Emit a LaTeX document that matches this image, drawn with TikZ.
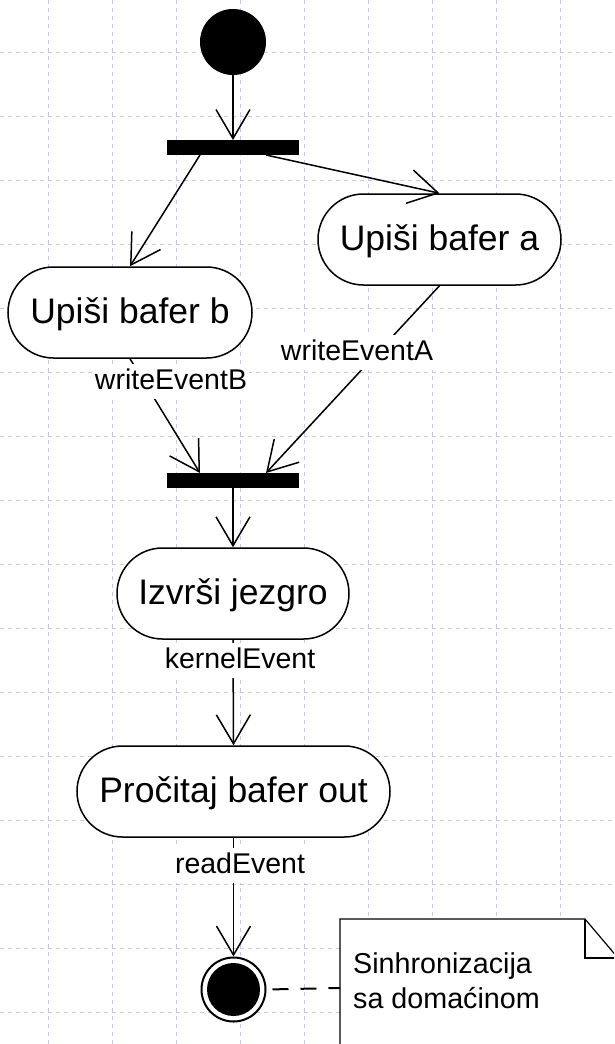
\documentclass[tikz,border=0pt]{standalone}
\usepackage{fontspec}
\setmainfont{Liberation Sans}
\usetikzlibrary{arrows.meta,shapes.misc,calc}

\definecolor{gridblue}{RGB}{192,202,245}

\begin{document}
\begin{tikzpicture}[x=1pt,y=-1pt,
  gridline/.style={draw=gridblue, line width=0.9pt, dash pattern=on 4pt off 4pt},
  action/.style={rounded rectangle, draw, fill=white, line width=1.5pt,
    minimum height=91pt, inner sep=0pt,
    font=\fontsize{35.5}{40}\selectfont, text height=21.5pt, text depth=0pt},
  bar/.style={rectangle, fill=black, minimum width=132pt, minimum height=15pt,
    inner sep=0pt, outer sep=0pt},
  flow/.style={line width=1.5pt, -{Straight Barb[length=29pt,width=34pt]}},
  guard/.style={fill=white, font=\fontsize{28.5}{34}\selectfont,
    text height=21pt, text depth=6pt, inner xsep=2pt, inner ysep=4pt},
  notetext/.style={font=\fontsize{28.7}{35}\selectfont, inner sep=0pt},
  notelink/.style={line width=2pt, dash pattern=on 16pt off 12pt}]

\useasboundingbox (0,0) rectangle (614,1044);
\clip (0,0) rectangle (614,1044);
\fill[white] (0,0) rectangle (614,1044);

% background grid
\foreach \gx in {48.5,112.5,...,600}
  \draw[gridline] (\gx,0) -- (\gx,1044);
\foreach \gy in {52,116,...,1044}
  \draw[gridline] (0,\gy) -- (614,\gy);

% initial and final states
\node[circle, fill=black, draw, line width=1pt, minimum size=65pt, inner sep=0pt] (start) at (233,42) {};
\node[circle, draw, fill=white, line width=2pt, minimum size=64pt, inner sep=0pt] (final) at (233.5,989.5) {};
\fill (final.center) circle (26.5);

% fork and join bars
\node[bar] (fork) at (233,147.5) {};
\node[bar] (join) at (233,480.5) {};

% actions
\node[action, minimum width=243pt] (bufA) at (439.5,239.5) {Upiši bafer a};
\node[action, minimum width=244pt] (bufB) at (130,312.5) {Upiši bafer b};
\node[action, minimum width=232pt] (kernel) at (233,593.5) {Izvrši jezgro};
\node[action, minimum width=313pt] (readout) at (233.5,791.5) {Pročitaj bafer out};

% note
\draw[line width=1.2pt, fill=white]
  (340,1070) -- (340,919) -- (585,919) -- (618,958) -- (618,1070);
\draw[line width=1.2pt] (585,919) -- (585,958) -- (618,958);
\coordinate (notewest) at (340,988);
\node[notetext, anchor=base west] (noteA) at (353,973) {Sinhronizacija};
\node[notetext, anchor=base west] (noteB) at (353,1008) {sa domaćinom};

% control flow
\coordinate (forkL) at ($(fork.south west)!0.25!(fork.south east)$);
\coordinate (forkR) at ($(fork.south west)!0.75!(fork.south east)$);
\coordinate (joinL) at ($(join.north west)!0.25!(join.north east)$);
\coordinate (joinR) at ($(join.north west)!0.75!(join.north east)$);

\draw[flow] (start) -- (fork.north);
\draw[flow] (forkL) -- (bufB.north);
\draw[flow] (forkR) -- (bufA.north);
\draw[flow] (bufB.south) -- (joinL);
\draw[flow] (bufA.south) -- (joinR);
\draw[flow] (join.south) -- (kernel.north);
\draw[flow] (kernel.south) -- (readout.north);
\draw[flow] (readout.south) -- (final.north);
\draw[notelink, shorten <=6pt] (final.east) -- (notewest);

% event labels
\node[guard, anchor=base] (evB) at (171,389) {writeEventB};
\node[guard, anchor=base] (evA) at (357,360) {writeEventA};
\node[guard, anchor=base] (evK) at (240,668) {kernelEvent};
\node[guard, anchor=base] (evR) at (240,873) {readEvent};
\end{tikzpicture}
\end{document}
